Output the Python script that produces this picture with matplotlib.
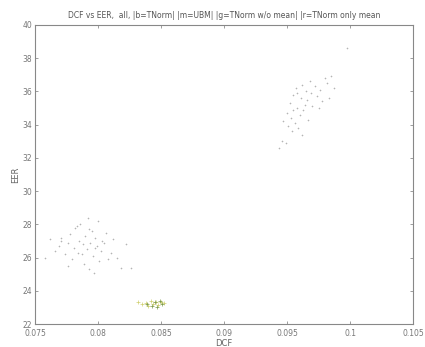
import numpy as np
import matplotlib.pyplot as plt

# left cluster (grey)
dcf_a = [0.0758, 0.0762, 0.0766, 0.0769, 0.0771, 0.0774, 0.0776, 0.0778, 0.0779,
         0.0781, 0.0782, 0.0784, 0.0785, 0.0786, 0.0788, 0.0789, 0.0790, 0.0791,
         0.0792, 0.0793, 0.0794, 0.0795, 0.0796, 0.0797, 0.0798, 0.0799, 0.0800,
         0.0801, 0.0802, 0.0803, 0.0805, 0.0806, 0.0808, 0.0810, 0.0812, 0.0815,
         0.0818, 0.0822, 0.0826, 0.0783, 0.0787, 0.0793, 0.0798, 0.0776, 0.0771]
eer_a = [26.0, 27.1, 26.4, 26.7, 27.2, 26.2, 26.9, 27.4, 25.9,
         26.6, 27.8, 26.3, 27.0, 28.0, 26.8, 25.6, 27.3, 26.5,
         28.4, 25.3, 26.9, 27.6, 26.1, 25.1, 27.2, 26.7, 28.2,
         25.8, 26.4, 27.0, 26.9, 27.5, 25.9, 26.3, 27.1, 26.0,
         25.4, 26.8, 25.4, 27.9, 26.2, 27.7, 26.6, 25.5, 27.0]

# right cluster (grey)
dcf_b = [0.0944, 0.0946, 0.0947, 0.0949, 0.0950, 0.0951, 0.0952, 0.0953, 0.0954,
         0.0955, 0.0956, 0.0957, 0.0958, 0.0959, 0.0960, 0.0961, 0.0962, 0.0963,
         0.0964, 0.0965, 0.0966, 0.0967, 0.0968, 0.0969, 0.0970, 0.0972, 0.0974,
         0.0976, 0.0978, 0.0980, 0.0982, 0.0983, 0.0985, 0.0987, 0.0962, 0.0958,
         0.0955, 0.0975, 0.0998]
eer_b = [32.6, 33.0, 34.2, 32.9, 34.7, 33.9, 35.3, 34.4, 33.6,
         35.8, 34.1, 36.2, 35.0, 33.8, 34.6, 35.6, 36.4, 34.9,
         35.2, 36.0, 35.5, 34.3, 36.6, 35.9, 35.1, 36.3, 35.7,
         36.1, 35.4, 36.8, 36.5, 35.6, 36.9, 36.2, 33.4, 35.9,
         34.9, 35.0, 38.6]

# lower cluster (yellow / green)
dcf_y = [0.0832, 0.0835, 0.0838, 0.0840, 0.0842, 0.0844, 0.0846, 0.0848, 0.0850, 0.0852]
eer_y = [23.3, 23.2, 23.25, 23.1, 23.4, 23.2, 23.35, 23.15, 23.3, 23.25]
dcf_g = [0.0839, 0.0843, 0.0845, 0.0847, 0.0849, 0.0851]
eer_g = [23.2, 23.1, 23.3, 23.05, 23.4, 23.2]

fig = plt.figure(figsize=(4.25, 3.47), dpi=100)
ax = fig.add_axes([0.0824, 0.066, 0.8894, 0.862])

ax.scatter(dcf_a, eer_a, marker='+', s=4, linewidths=0.4, color='#b4b4b4')
ax.scatter(dcf_b, eer_b, marker='+', s=4, linewidths=0.4, color='#b4b4b4')
ax.scatter(dcf_y, eer_y, marker='+', s=6, linewidths=0.5, color='#d0d070')
ax.scatter(dcf_g, eer_g, marker='+', s=6, linewidths=0.5, color='#7a9a4a')

ax.set_xlim(0.075, 0.105)
ax.set_ylim(22, 40)
ax.set_xticks([0.075, 0.08, 0.085, 0.09, 0.095, 0.1, 0.105])
ax.set_xticklabels(['0.075', '0.08', '0.085', '0.09', '0.095', '0.1', '0.105'])
ax.set_yticks(range(22, 41, 2))
ax.tick_params(direction='in', length=2, width=0.5, labelsize=5.5,
               colors='#777777', top=True, right=True, pad=2)
ax.tick_params(axis='x', pad=3.5)
for s in ax.spines.values():
    s.set_color('#888888')
    s.set_linewidth(0.8)

ax.set_xlabel('DCF', fontsize=6, color='#666666', labelpad=1)
ax.set_ylabel('EER', fontsize=6, color='#666666', labelpad=2)
ax.set_title('DCF vs EER,  all, |b=TNorm| |m=UBM| |g=TNorm w/o mean| |r=TNorm only mean',
             fontsize=5.5, color='#555555', pad=5)

plt.savefig('out.png', dpi=100)
